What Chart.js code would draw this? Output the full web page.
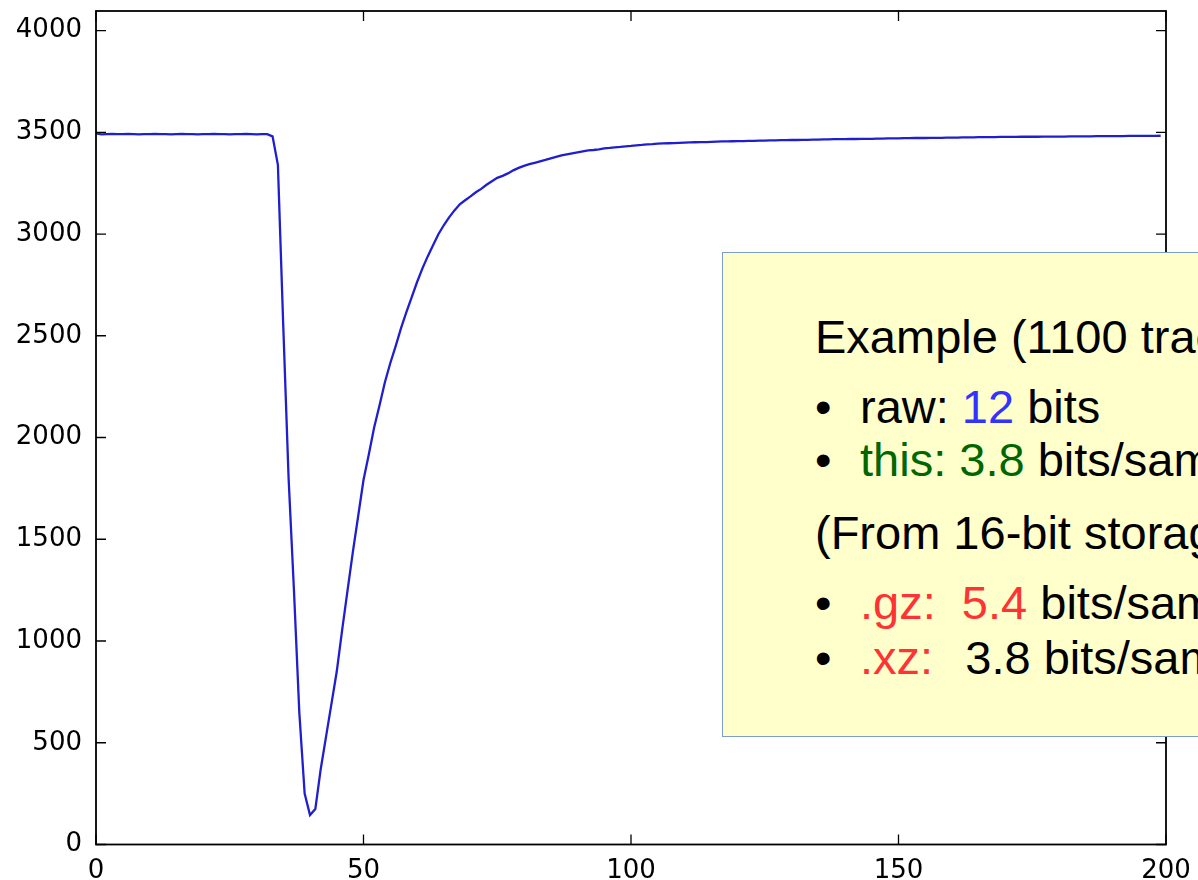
<!DOCTYPE html>
<html>
<head>
<meta charset="utf-8">
<title>Trace</title>
<script src="https://cdn.jsdelivr.net/npm/chart.js@4.4.1/dist/chart.umd.min.js"></script>
<style>
  html, body { margin: 0; padding: 0; background: #fff; overflow: hidden; }
  #wrap { position: relative; width: 1198px; height: 880px; overflow: hidden; }
  #trace { position: absolute; left: 0; top: 0; }
  #note {
    position: absolute; left: 722px; top: 252px; width: 600px; height: 483px;
    background: #ffffcc; border: 1px solid #7f9ccb;
    font-family: "Liberation Sans", Arial, sans-serif; font-size: 47px; color: #000;
  }
  #note div { position: absolute; left: 92px; line-height: 47px; white-space: pre; }
  #note .dot { display: inline-block; width: 45px; }
  .blue { color: #3333ff; }
  .green { color: #006600; }
  .red { color: #ff3333; }
</style>
</head>
<body>
<div id="wrap">
  <canvas id="trace" width="1198" height="880"></canvas>
  <div id="note">
    <div style="top:60px">Example (1100 traces)</div>
    <div style="top:130px"><span class="dot">•</span>raw: <span class="blue">12</span> bits</div>
    <div style="top:183px"><span class="dot">•</span><span class="green">this: 3.8</span> bits/sample</div>
    <div style="top:256px">(From 16-bit storage)</div>
    <div style="top:326px"><span class="dot">•</span><span class="red">.gz:  5.4</span> bits/sample</div>
    <div style="top:381px"><span class="dot">•</span><span class="red">.xz:</span>  <span style="margin-left:6px">3.8</span> bits/sample</div>
  </div>
</div>
<script>
// one waveform, sample index 0..199
const samples = [
  3495, 3490, 3491, 3492, 3491, 3491, 3492, 3491, 3490, 3491,
  3491, 3492, 3491, 3491, 3490, 3491, 3492, 3491, 3491, 3490,
  3491, 3491, 3492, 3491, 3491, 3490, 3491, 3491, 3492, 3491,
  3490, 3491, 3491, 3480, 3340, 2550, 1800, 1250, 650, 250,
  145, 175, 370, 530, 690, 850, 1052, 1245, 1436, 1613,
  1791, 1918, 2050, 2159, 2272, 2365, 2448, 2536, 2615, 2689,
  2763, 2830, 2890, 2945, 2999, 3043, 3082, 3116, 3146, 3166,
  3185, 3205, 3222, 3242, 3259, 3276, 3286, 3298, 3313, 3325,
  3335, 3343, 3350, 3357, 3364, 3372, 3379, 3386, 3391, 3396,
  3401, 3406, 3411, 3413, 3416, 3421, 3423, 3426, 3428, 3431,
  3433, 3436, 3438, 3441, 3442, 3444, 3445, 3446, 3447, 3448,
  3449, 3450, 3451, 3452, 3452, 3453, 3454, 3455, 3455, 3456,
  3457, 3457, 3458, 3458, 3459, 3459, 3460, 3460, 3461, 3461,
  3462, 3462, 3463, 3463, 3464, 3464, 3465, 3465, 3466, 3466,
  3466, 3467, 3467, 3468, 3468, 3468, 3469, 3469, 3470, 3470,
  3470, 3471, 3471, 3472, 3472, 3472, 3473, 3473, 3473, 3474,
  3474, 3474, 3475, 3475, 3475, 3476, 3476, 3476, 3476, 3477,
  3477, 3477, 3477, 3478, 3478, 3478, 3478, 3479, 3479, 3479,
  3479, 3479, 3480, 3480, 3480, 3480, 3480, 3481, 3481, 3481,
  3481, 3481, 3481, 3482, 3482, 3482, 3482, 3482, 3482, 3483
];
const xTicks = [0, 50, 100, 150, 200];
const yTicks = [0, 500, 1000, 1500, 2000, 2500, 3000, 3500, 4000];
const yMax = 4096; // 12-bit range

// matplotlib-like frame with inward ticks on all four sides
const frame = {
  id: 'frame',
  afterDatasetsDraw(chart) {
    const { ctx, chartArea: a, scales: { x, y } } = chart;
    ctx.save();
    ctx.strokeStyle = '#000';
    ctx.lineWidth = 1.8;
    ctx.strokeRect(a.left, a.top, a.right - a.left, a.bottom - a.top);
    ctx.beginPath();
    x.ticks.forEach(t => {
      const px = x.getPixelForValue(t.value);
      ctx.moveTo(px, a.bottom); ctx.lineTo(px, a.bottom - 10);
      ctx.moveTo(px, a.top); ctx.lineTo(px, a.top + 10);
    });
    y.ticks.forEach(t => {
      const py = y.getPixelForValue(t.value);
      ctx.moveTo(a.left, py); ctx.lineTo(a.left + 10, py);
      ctx.moveTo(a.right, py); ctx.lineTo(a.right - 10, py);
    });
    ctx.lineWidth = 1.3;
    ctx.stroke();
    ctx.restore();
  }
};

const noPad = (scale) => {
  scale.paddingTop = 0; scale.paddingBottom = 0;
  scale.paddingLeft = 0; scale.paddingRight = 0;
};

new Chart(document.getElementById('trace'), {
  type: 'line',
  data: {
    datasets: [{
      data: samples.map((v, i) => ({ x: i, y: v })),
      borderColor: '#1f1fd0',
      borderWidth: 2.3,
      pointRadius: 0,
      tension: 0,
      fill: false
    }]
  },
  options: {
    responsive: false,
    animation: false,
    events: [],
    layout: { padding: { left: 0, right: 32, top: 11, bottom: 0 } },
    plugins: { legend: { display: false }, tooltip: { enabled: false } },
    scales: {
      x: {
        type: 'linear',
        min: 0,
        max: 200,
        afterBuildTicks: (s) => { s.ticks = xTicks.map(v => ({ value: v })); },
        afterFit: (s) => { s.height = 35.5; noPad(s); },
        grid: { display: false, drawTicks: false },
        border: { display: false },
        ticks: {
          padding: 11,
          maxRotation: 0,
          color: '#000',
          font: { family: 'DejaVu Sans', size: 26 },
          callback: (v) => String(v)
        }
      },
      y: {
        min: 0,
        max: yMax,
        afterBuildTicks: (s) => { s.ticks = yTicks.map(v => ({ value: v })); },
        afterFit: (s) => { s.width = 96; noPad(s); },
        grid: { display: false, drawTicks: false },
        border: { display: false },
        ticks: {
          padding: 14,
          color: '#000',
          font: { family: 'DejaVu Sans', size: 26 },
          callback: (v) => String(v)
        }
      }
    }
  },
  plugins: [frame]
});
</script>
</body>
</html>
